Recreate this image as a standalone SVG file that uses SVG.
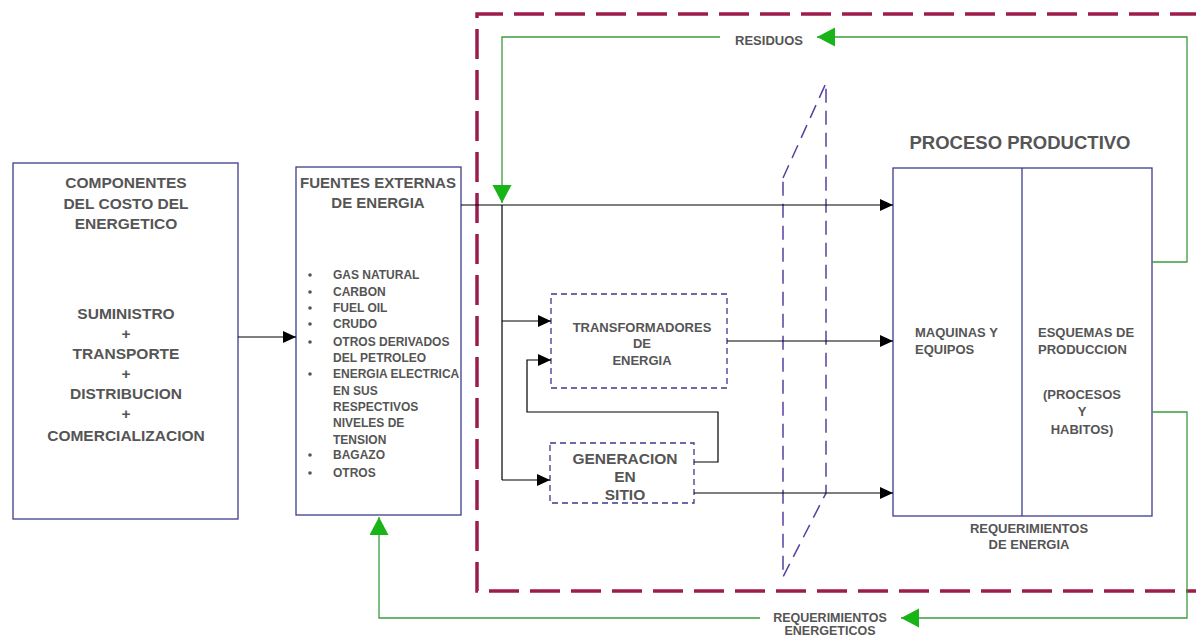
<svg xmlns="http://www.w3.org/2000/svg" width="1196" height="638" viewBox="0 0 1196 638">
<style>
text{font-family:"Liberation Sans",Arial,sans-serif;font-weight:bold;fill:#555}
.c{text-anchor:middle}
.box{fill:#fff;stroke:#3c3c8c;stroke-width:1.3}
.dbox{fill:#fff;stroke:#3a3a8a;stroke-width:1.3;stroke-dasharray:6 4}
.blk{fill:none;stroke:#000;stroke-width:1.2}
.grn{fill:none;stroke:#3d9a3d;stroke-width:1.3}
</style>
<defs>
<marker id="ab" markerUnits="userSpaceOnUse" markerWidth="14" markerHeight="14" refX="13" refY="7" orient="auto"><path d="M0,1 L13,7 L0,13 z" fill="#000"/></marker>
<marker id="ag" markerUnits="userSpaceOnUse" markerWidth="20" markerHeight="20" refX="18" refY="9.5" orient="auto"><path d="M0,0 L18,9.5 L0,19 z" fill="#18b418"/></marker>
</defs>
<rect width="1196" height="638" fill="#fff"/>

<g id="boundary">
<path d="M1200,14 H477 V591 H1200" fill="none" stroke="#9c1c4c" stroke-width="3.5" stroke-dasharray="30 11"/>
</g>
<g id="divider">
<polygon points="783,178 826,83 826,493 783,577" fill="none" stroke="#5a3fa0" stroke-width="1.5" stroke-dasharray="14 8"/>
</g>

<g id="componentes">
<rect class="box" x="13" y="163" width="225" height="356"/>
<g font-size="15.5">
<text class="c" x="126" y="188">COMPONENTES</text>
<text class="c" x="126" y="209">DEL COSTO DEL</text>
<text class="c" x="126" y="229">ENERGETICO</text>
<text class="c" x="126" y="319">SUMINISTRO</text>
<text class="c" x="126" y="339">+</text>
<text class="c" x="126" y="359">TRANSPORTE</text>
<text class="c" x="126" y="379">+</text>
<text class="c" x="126" y="399">DISTRIBUCION</text>
<text class="c" x="126" y="419">+</text>
<text class="c" x="126" y="441">COMERCIALIZACION</text>
</g>
</g>

<g id="fuentes">
<rect class="box" x="296" y="167" width="165" height="348"/>
<text class="c" x="378" y="188" font-size="15">FUENTES EXTERNAS</text>
<text class="c" x="378" y="208" font-size="15">DE ENERGIA</text>
<g font-size="12">
<text x="333" y="279">GAS NATURAL</text>
<text x="333" y="296">CARBON</text>
<text x="333" y="312">FUEL OIL</text>
<text x="333" y="328">CRUDO</text>
<text x="333" y="346">OTROS DERIVADOS</text>
<text x="333" y="362">DEL PETROLEO</text>
<text x="333" y="378">ENERGIA ELECTRICA</text>
<text x="333" y="395">EN SUS</text>
<text x="333" y="411">RESPECTIVOS</text>
<text x="333" y="427">NIVELES DE</text>
<text x="333" y="444">TENSION</text>
<text x="333" y="459">BAGAZO</text>
<text x="333" y="477">OTROS</text>
</g>
<g fill="#555">
<circle cx="310" cy="275" r="1.8"/><circle cx="310" cy="292" r="1.8"/><circle cx="310" cy="308" r="1.8"/><circle cx="310" cy="324" r="1.8"/><circle cx="310" cy="342" r="1.8"/><circle cx="310" cy="374" r="1.8"/><circle cx="310" cy="455" r="1.8"/><circle cx="310" cy="473" r="1.8"/>
</g>
</g>

<g id="transformadores">
<rect class="dbox" x="551" y="294" width="176" height="94"/>
<g font-size="13">
<text class="c" x="642" y="332">TRANSFORMADORES</text>
<text class="c" x="642" y="348">DE</text>
<text class="c" x="642" y="365">ENERGIA</text>
</g>
</g>

<g id="generacion">
<rect class="dbox" x="550" y="443" width="144" height="60"/>
<g font-size="15.5">
<text class="c" x="625" y="464">GENERACION</text>
<text class="c" x="625" y="482">EN</text>
<text class="c" x="625" y="500">SITIO</text>
</g>
</g>

<g id="proceso">
<text class="c" x="1020" y="149" font-size="18.5">PROCESO PRODUCTIVO</text>
<rect class="box" x="893" y="168" width="259" height="348"/>
<line x1="1022" y1="168" x2="1022" y2="516" stroke="#3c3c8c" stroke-width="1.3"/>
<g font-size="13">
<text x="915" y="337">MAQUINAS Y</text>
<text x="915" y="354">EQUIPOS</text>
<text x="1038" y="337">ESQUEMAS DE</text>
<text x="1038" y="354">PRODUCCION</text>
<text class="c" x="1082" y="399">(PROCESOS</text>
<text class="c" x="1082" y="416">Y</text>
<text class="c" x="1082" y="434">HABITOS)</text>
<text class="c" x="1029" y="533">REQUERIMIENTOS</text>
<text class="c" x="1029" y="549">DE ENERGIA</text>
</g>
</g>

<g id="connectors">
<path class="blk" d="M238,337 H296" marker-end="url(#ab)"/>
<path class="blk" d="M461,205 H893" marker-end="url(#ab)"/>
<path class="blk" d="M502,205 V480"/>
<path class="blk" d="M502,321 H551" marker-end="url(#ab)"/>
<path class="blk" d="M502,480 H550" marker-end="url(#ab)"/>
<path class="blk" d="M694,462 H718 V412 H527 V360 H551" marker-end="url(#ab)"/>
<path class="blk" d="M727,341 H893" marker-end="url(#ab)"/>
<path class="blk" d="M694,493 H893" marker-end="url(#ab)"/>

<path class="grn" d="M1152,262 H1187 V37 H817" marker-end="url(#ag)"/>
<path class="grn" d="M720,37 H502 V203" marker-end="url(#ag)"/>
<path class="grn" d="M1152,412 H1187 V618 H901" marker-end="url(#ag)"/>
<path class="grn" d="M760,618 H379 V517" marker-end="url(#ag)"/>
<rect x="725" y="28" width="88" height="20" fill="#fff"/>
<text class="c" x="769" y="45" font-size="13">RESIDUOS</text>
<rect x="762" y="608" width="134" height="30" fill="#fff"/>
<g font-size="12.5">
<text class="c" x="830" y="622">REQUERIMIENTOS</text>
<text class="c" x="830" y="635">ENERGETICOS</text>
</g>
</g>
</svg>
